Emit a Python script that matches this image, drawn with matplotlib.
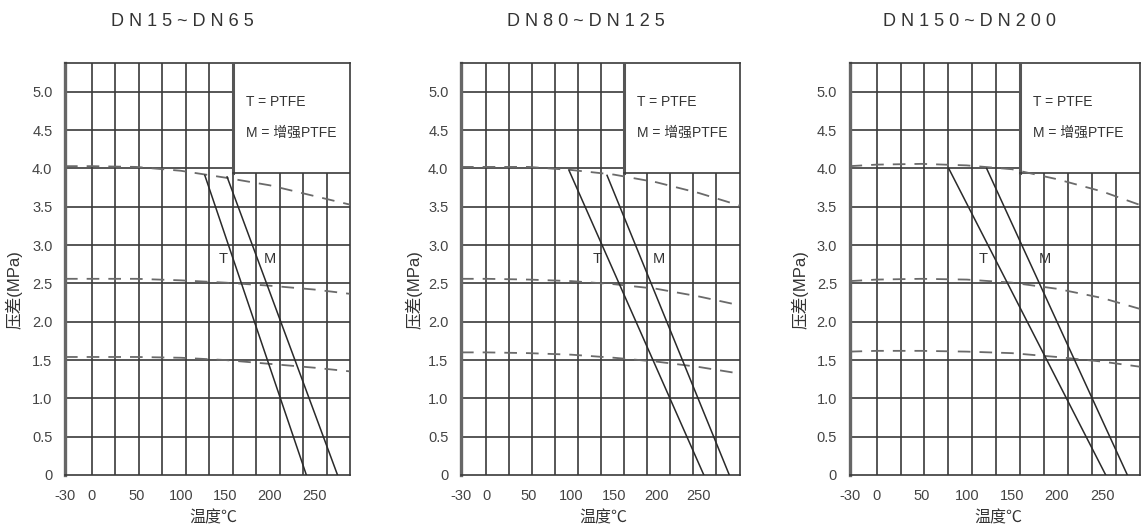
import numpy as np
import matplotlib.pyplot as plt
from matplotlib.patches import Rectangle

plt.rcParams['font.family'] = ['Liberation Sans', 'Noto Sans CJK SC', 'DejaVu Sans']

W, H = 1141, 526

titles = ['D N 1 5 ~ D N 6 5', 'D N 8 0 ~ D N 1 2 5', 'D N 1 5 0 ~ D N 2 0 0']
xticks = [-30, 0, 50, 100, 150, 200, 250]
yticks = [0, 0.5, 1.0, 1.5, 2.0, 2.5, 3.0, 3.5, 4.0, 4.5, 5.0]
ytick_labels = ['0', '0.5', '1.0', '1.5', '2.0', '2.5', '3.0', '3.5', '4.0', '4.5', '5.0']

# temperature points for the dashed curves
temp = [-30, 0, 50, 100, 150, 200, 250, 300]

hi_1 = [4.03, 4.03, 4.02, 3.97, 3.88, 3.78, 3.64, 3.50]
mid_1 = [2.56, 2.56, 2.56, 2.54, 2.51, 2.47, 2.42, 2.35]
lo_1 = [1.54, 1.54, 1.54, 1.53, 1.50, 1.45, 1.40, 1.34]

hi_2 = [4.02, 4.02, 4.02, 3.98, 3.92, 3.82, 3.68, 3.51]
mid_2 = [2.56, 2.56, 2.55, 2.53, 2.49, 2.43, 2.33, 2.21]
lo_2 = [1.60, 1.60, 1.59, 1.57, 1.53, 1.48, 1.41, 1.32]

hi_3 = [4.03, 4.05, 4.06, 4.04, 3.99, 3.86, 3.70, 3.49]
mid_3 = [2.53, 2.55, 2.56, 2.55, 2.51, 2.43, 2.31, 2.14]
lo_3 = [1.61, 1.62, 1.62, 1.61, 1.59, 1.54, 1.48, 1.40]

# T (PTFE) and M (reinforced PTFE) limit lines: start and end points
t_x = [[127, 241], [97, 256], [80, 254]]
t_y = [[3.91, 0], [3.98, 0], [4.0, 0]]
m_x = [[152, 276], [142, 286], [122, 278]]
m_y = [[3.89, 0], [3.91, 0], [4.0, 0]]

dashed = [(hi_1, mid_1, lo_1), (hi_2, mid_2, lo_2), (hi_3, mid_3, lo_3)]

# layout in pixels: left, right, x max, title x, ylabel x, xlabel x, T label x, M label x
panels = [
    (65, 350, 290, 182, 14, 213, 148, 200),
    (461, 739.5, 298, 586, 414, 603, 130, 203),
    (849.5, 1140, 292, 970, 800, 998, 118, 187),
]
top_px, bot_px = 62.7, 475
ymax = 5.38

grid_c = '#3a3a3a'
fig = plt.figure(figsize=(W / 100, H / 100), dpi=100)

for i, (l, r, xmax, tx, ylx, xlx, tlx, mlx) in enumerate(panels):
    ax = fig.add_axes([l / W, 1 - bot_px / H, (r - l) / W, (bot_px - top_px) / H])
    ax.set_xlim(-30, xmax)
    ax.set_ylim(0, ymax)

    gx = [-30] + list(np.linspace(0, xmax, 12))
    box_x = gx[7]
    box_y = 3.94
    # grid
    for x in gx[1:-1]:
        ax.plot([x, x], [0, ymax], color=grid_c, lw=1.2, zorder=1)
    for y in yticks[1:]:
        ax.plot([-30, xmax], [y, y], color=grid_c, lw=1.2, zorder=1)
    # legend box
    ax.add_patch(Rectangle((box_x, box_y), xmax - box_x, ymax - box_y,
                           facecolor='white', edgecolor='none', zorder=2))
    ax.plot([box_x, box_x], [box_y, ymax], color='#555555', lw=2.2, zorder=3)
    ax.plot([box_x, xmax], [box_y, box_y], color=grid_c, lw=1.2, zorder=3)
    ax.text(box_x + 0.05 * xmax, 4.87, 'T = PTFE', fontsize=10, color='#333333',
            va='center', zorder=4)
    ax.text(box_x + 0.05 * xmax, 4.46, 'M = 增强PTFE', fontsize=10, color='#333333',
            va='center', zorder=4)

    for curve in dashed[i]:
        ax.plot(temp, curve, color='#6a6a6a', lw=1.3, dashes=(7, 5), zorder=3)

    ax.plot(t_x[i], t_y[i], color='#2a2a2a', lw=1.1, zorder=4)
    ax.plot(m_x[i], m_y[i], color='#2a2a2a', lw=1.1, zorder=4)
    ax.text(tlx, 2.82, 'T', fontsize=10.5, color='#333333', ha='center', va='center', zorder=5)
    ax.text(mlx, 2.82, 'M', fontsize=10.5, color='#333333', ha='center', va='center', zorder=5)

    ax.set_xticks(xticks)
    ax.set_xticklabels([str(v) for v in xticks])
    ax.set_yticks(yticks)
    ax.set_yticklabels(ytick_labels)
    ax.tick_params(length=0, labelsize=10.5, labelcolor='#444444')
    ax.tick_params(axis='y', pad=9)
    ax.tick_params(axis='x', pad=10)
    for s in ['top', 'right', 'bottom']:
        ax.spines[s].set_color(grid_c)
        ax.spines[s].set_linewidth(1.2)
    ax.spines['left'].set_color('#666666')
    ax.spines['left'].set_linewidth(2.4)

    fig.text(tx / W, 1 - 21 / H, titles[i], fontsize=13, color='#333333',
             ha='center', va='center')
    fig.text(ylx / W, 1 - 290 / H, '压差(MPa)', fontsize=12, color='#333333',
             rotation=90, ha='center', va='center')
    fig.text(xlx / W, 1 - 518 / H, '温度℃', fontsize=11.5, color='#333333',
             ha='center', va='center')

fig.savefig('out.png', dpi=100)
